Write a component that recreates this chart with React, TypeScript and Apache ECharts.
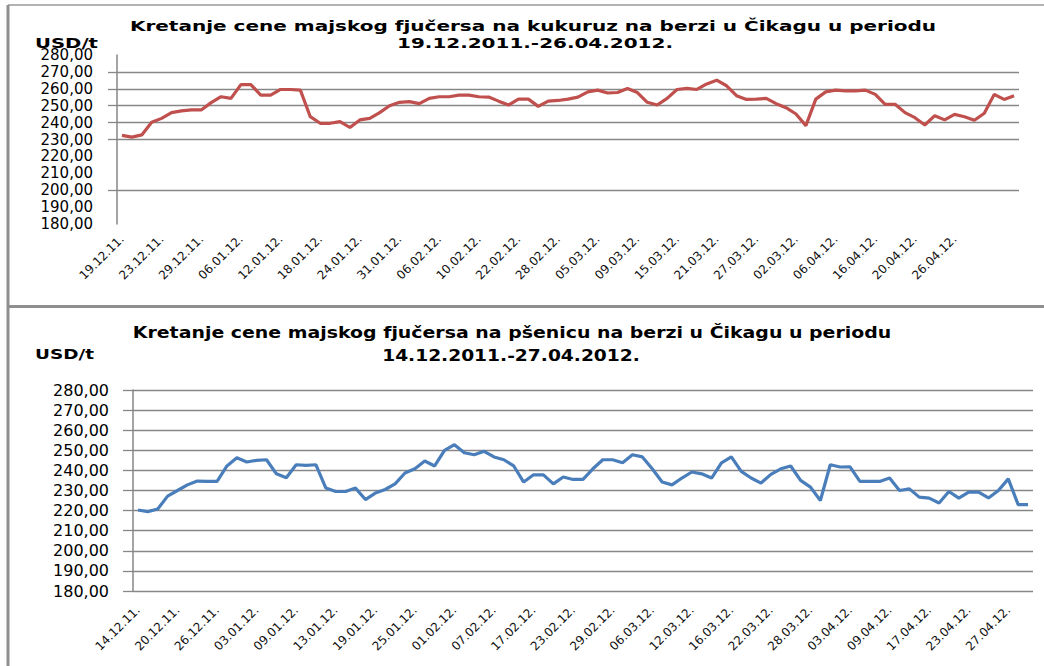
import React, { useEffect, useRef } from "react";
import * as echarts from "echarts";

const cornPrices = [
  232.4, 231.4, 232.7, 240.2, 242.5, 245.9, 246.9, 247.5, 247.5, 251.8,
  255.3, 254.3, 262.5, 262.5, 256.3, 256.3, 259.6, 259.6, 259.2, 243.5,
  239.6, 239.6, 240.6, 237.1, 241.6, 242.5, 245.9, 250.0, 252.0, 252.4,
  251.2, 254.3, 255.3, 255.3, 256.3, 256.3, 255.3, 255.1, 252.7, 250.4,
  253.9, 253.9, 249.6, 252.7, 253.1, 253.9, 255.1, 258.2, 259.2, 257.5,
  257.8, 260.2, 257.8, 252.0, 250.4, 254.3, 259.6, 260.2, 259.6, 262.9,
  265.1, 261.8, 255.9, 253.7, 253.9, 254.3, 251.2, 248.8, 245.1, 238.2,
  253.9, 258.2, 259.2, 258.8, 258.8, 259.2, 256.7, 250.8, 250.8, 245.9,
  242.9, 238.6, 244.1, 241.6, 244.9, 243.5, 241.4, 245.5, 256.7, 253.7,
  255.9,
];

const wheatPrices = [
  220.3, 219.5, 220.8, 227.2, 230.0, 232.8, 234.7, 234.5, 234.5, 242.2,
  246.3, 244.2, 245.0, 245.3, 238.3, 236.3, 242.8, 242.5, 242.8, 231.2,
  229.5, 229.5, 231.2, 225.5, 228.7, 230.5, 233.3, 238.7, 240.8, 244.7,
  242.2, 250.0, 252.8, 248.8, 247.8, 249.5, 246.7, 245.3, 242.2, 234.2,
  237.8, 237.8, 233.3, 236.7, 235.5, 235.5, 240.8, 245.3, 245.3, 243.8,
  247.8, 246.7, 240.8, 234.2, 232.8, 236.2, 239.2, 238.3, 236.2, 243.8,
  246.7, 239.5, 236.2, 233.7, 238.0, 240.8, 242.2, 235.0, 231.7, 225.0,
  242.8, 241.7, 241.8, 234.5, 234.5, 234.5, 236.2, 230.0, 230.8, 226.7,
  226.2, 223.8, 229.5, 226.2, 229.2, 229.2, 226.3, 230.0, 235.8, 223.0,
  223.0,
];

const cornTickLabels = [
  "19.12.11.", "23.12.11.", "29.12.11.", "06.01.12.", "12.01.12.", "18.01.12.",
  "24.01.12.", "31.01.12.", "06.02.12.", "10.02.12.", "22.02.12.", "28.02.12.",
  "05.03.12.", "09.03.12.", "15.03.12.", "21.03.12.", "27.03.12.", "02.03.12.",
  "06.04.12.", "16.04.12.", "20.04.12.", "26.04.12.",
];

const wheatTickLabels = [
  "14.12.11.", "20.12.11.", "26.12.11.", "03.01.12.", "09.01.12.", "13.01.12.",
  "19.01.12.", "25.01.12.", "01.02.12.", "07.02.12.", "17.02.12.", "23.02.12.",
  "29.02.12.", "06.03.12.", "12.03.12.", "16.03.12.", "22.03.12.", "28.03.12.",
  "03.04.12.", "09.04.12.", "17.04.12.", "23.04.12.", "27.04.12.",
];

const yTickValues = [180, 190, 200, 210, 220, 230, 240, 250, 260, 270, 280];
// gridlines that are visible in the upper chart
const cornGridValues = [200, 230, 240, 250, 260, 270];

const cornTitle = "Kretanje cene majskog fjučersa na kukuruz na berzi u Čikagu u periodu";
const cornPeriod = "19.12.2011.-26.04.2012.";
const wheatTitle = "Kretanje cene majskog fjučersa na pšenicu na berzi u Čikagu u periodu";
const wheatPeriod = "14.12.2011.-27.04.2012.";
const unitLabel = "USD/t";

const LABEL_STEP = 4;
const GRID_GRAY = "#878787";
const FONT = "DejaVu Sans";

function measureText(text: string, font: string): number {
  const ctx = document.createElement("canvas").getContext("2d");
  if (!ctx) return text.length * 8;
  ctx.font = font;
  return ctx.measureText(text).width;
}

function stretchedText(
  text: string,
  x: number,
  y: number,
  size: number,
  targetWidth: number,
  align: "left" | "center"
) {
  const w = measureText(text, `bold ${size}px "${FONT}"`);
  return {
    type: "text",
    x,
    y,
    scaleX: targetWidth / w,
    silent: true,
    style: {
      text,
      x: 0,
      y: 0,
      fill: "#000",
      fontFamily: FONT,
      fontWeight: "bold",
      fontSize: size,
      textAlign: align,
      align,
      textVerticalAlign: "middle",
      verticalAlign: "middle",
    },
  };
}

const fmtY = (v: number) => v.toFixed(2).replace(".", ",");

function buildOption() {
  const cornCats = cornPrices.map((_, i) => String(i));
  const wheatCats = wheatPrices.map((_, i) => String(i));

  const xLabel = (labels: string[], margin: number) => ({
    interval: (i: number) => i % LABEL_STEP === 0 && i / LABEL_STEP < labels.length,
    formatter: (_v: string, i: number) => labels[i / LABEL_STEP] ?? "",
    rotate: 45,
    margin,
    fontSize: 12,
    fontFamily: FONT,
    color: "#111",
  });

  const yLabel = (size: number) => ({
    formatter: fmtY,
    fontSize: size,
    fontFamily: FONT,
    color: "#000",
    margin: 24,
  });

  const cornGridFn = (_i: number, v: string) => cornGridValues.includes(Number(v));

  return {
    animation: false,
    backgroundColor: "#fff",
    grid: [
      { left: 117, right: 25, top: 55, height: 169 },
      { left: 133, right: 11, top: 390, height: 201 },
    ],
    xAxis: [
      {
        type: "category",
        gridIndex: 0,
        data: cornCats,
        boundaryGap: true,
        axisLine: { show: false },
        axisTick: { show: false },
        splitLine: { show: false },
        axisLabel: xLabel(cornTickLabels, 13),
      },
      {
        type: "category",
        gridIndex: 1,
        data: wheatCats,
        boundaryGap: true,
        axisLine: { show: false },
        axisTick: { show: false },
        splitLine: { show: false },
        axisLabel: xLabel(wheatTickLabels, 17),
      },
    ],
    yAxis: [
      {
        type: "value",
        gridIndex: 0,
        min: yTickValues[0],
        max: yTickValues[yTickValues.length - 1],
        interval: 10,
        axisLine: { show: true, lineStyle: { color: GRID_GRAY, width: 1.5 } },
        axisTick: { show: false },
        splitLine: { show: false },
        axisLabel: yLabel(15),
      },
      {
        type: "category",
        gridIndex: 0,
        position: "left",
        data: yTickValues.map(String),
        boundaryGap: false,
        axisLine: { show: false },
        axisLabel: { show: false },
        axisTick: {
          show: true,
          length: 9,
          interval: cornGridFn,
          lineStyle: { color: GRID_GRAY, width: 1.3 },
        },
        splitLine: {
          show: true,
          interval: cornGridFn,
          lineStyle: { color: GRID_GRAY, width: 1.3 },
        },
      },
      {
        type: "value",
        gridIndex: 1,
        min: yTickValues[0],
        max: yTickValues[yTickValues.length - 1],
        interval: 10,
        axisLine: { show: true, lineStyle: { color: GRID_GRAY, width: 1.5 } },
        axisTick: { show: true, length: 10, lineStyle: { color: GRID_GRAY, width: 1.3 } },
        splitLine: { show: true, lineStyle: { color: GRID_GRAY, width: 1.3 } },
        axisLabel: yLabel(16),
      },
    ],
    series: [
      {
        type: "line",
        name: "kukuruz",
        xAxisIndex: 0,
        yAxisIndex: 0,
        data: cornPrices,
        symbol: "none",
        lineStyle: { color: "#C0504D", width: 3.2 },
        itemStyle: { color: "#C0504D" },
        z: 5,
      },
      {
        type: "line",
        name: "pšenica",
        xAxisIndex: 1,
        yAxisIndex: 2,
        data: wheatPrices,
        symbol: "none",
        lineStyle: { color: "#4A7EBB", width: 3.2 },
        itemStyle: { color: "#4A7EBB" },
        z: 5,
      },
    ],
    graphic: [
      {
        type: "line",
        silent: true,
        shape: { x1: 8, y1: 5, x2: 1044, y2: 5 },
        style: { stroke: "#9a9a9a", lineWidth: 1.5 },
      },
      {
        type: "line",
        silent: true,
        shape: { x1: 8, y1: 5, x2: 8, y2: 666 },
        style: { stroke: "#8f8f8f", lineWidth: 3 },
      },
      {
        type: "line",
        silent: true,
        shape: { x1: 8, y1: 306.5, x2: 1044, y2: 306.5 },
        style: { stroke: "#8f8f8f", lineWidth: 3 },
      },
      stretchedText(cornTitle, 533, 26, 14, 807, "center"),
      stretchedText(cornPeriod, 535, 43, 14, 276, "center"),
      stretchedText(unitLabel, 35, 43, 14, 63, "left"),
      stretchedText(wheatTitle, 512, 333, 16, 759, "center"),
      stretchedText(wheatPeriod, 511, 355, 16, 258, "center"),
      stretchedText(unitLabel, 35, 354, 14, 59, "left"),
    ],
  };
}

export default function App() {
  const ref = useRef<HTMLDivElement>(null);
  useEffect(() => {
    if (!ref.current) return;
    const chart = echarts.init(ref.current, undefined, { renderer: "svg" });
    chart.setOption(buildOption() as any);
    return () => chart.dispose();
  }, []);
  return (
    <div
      ref={ref}
      style={{ position: "absolute", left: 0, top: 0, width: 1044, height: 666, background: "#fff" }}
    />
  );
}
